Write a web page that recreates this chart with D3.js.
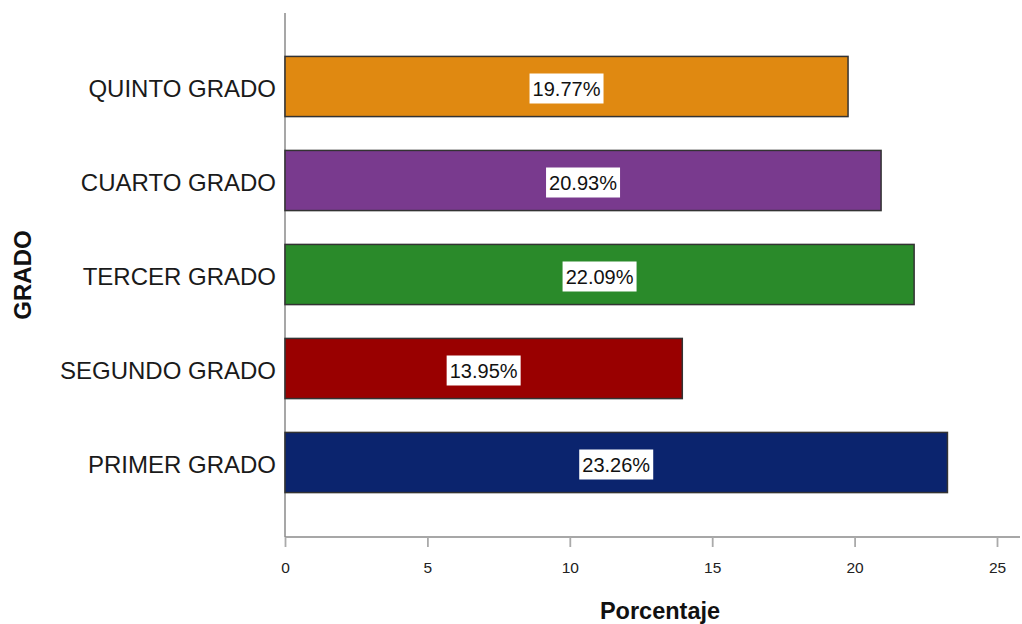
<!DOCTYPE html>
<html>
<head>
<meta charset="utf-8">
<script src="https://cdn.jsdelivr.net/npm/d3@7"></script>
<style>
html,body{margin:0;padding:0;background:#fff;}
svg{display:block;font-family:"Liberation Sans",Arial,sans-serif;}
</style>
</head>
<body>
<svg id="chart" width="1022" height="624"></svg>
<script>
const categories = ["QUINTO GRADO","CUARTO GRADO","TERCER GRADO","SEGUNDO GRADO","PRIMER GRADO"];
const values = [19.77, 20.93, 22.09, 13.95, 23.26];
const colors = ["#E08911","#793A8E","#2A8A2A","#990000","#0B246E"];
const xTicks = [0,5,10,15,20,25];
const xTitle = "Porcentaje";
const yTitle = "GRADO";

const svg = d3.select("#chart");
const x = d3.scaleLinear().domain([0,25]).range([285,997]);
const y = d3.scaleBand().domain(categories).range([39.5,509.5]).paddingInner(0.36).paddingOuter(0.18);
const axisY = 537;

// axis lines
svg.append("line").attr("x1",285).attr("x2",285).attr("y1",13).attr("y2",axisY)
  .attr("stroke","#8a8a8a").attr("stroke-width",1.5);
svg.append("line").attr("x1",285).attr("x2",1020).attr("y1",axisY).attr("y2",axisY)
  .attr("stroke","#8a8a8a").attr("stroke-width",1.5);

// x ticks
const xAxis = svg.append("g").attr("transform",`translate(0,${axisY})`)
  .call(d3.axisBottom(x).tickValues(xTicks).tickSize(10).tickPadding(15).tickFormat(d3.format("d")));
xAxis.attr("font-size",null);
xAxis.select(".domain").remove();
xAxis.selectAll(".tick line").attr("stroke","#aaa").attr("stroke-width",1.8);
xAxis.selectAll(".tick text").attr("font-size","15.5px").attr("fill","#222")
  .attr("font-family","Liberation Sans, Arial, sans-serif");

// category labels
svg.append("g").selectAll("text").data(categories).join("text")
  .attr("x",276).attr("y",d=>y(d)+y.bandwidth()/2+1.5)
  .attr("dy","0.36em").attr("text-anchor","end")
  .attr("font-size","24px").attr("fill","#1a1a1a").text(d=>d);

// bars
svg.append("g").selectAll("rect").data(values).join("rect")
  .attr("x",x(0)).attr("y",(d,i)=>y(categories[i]))
  .attr("width",d=>x(d)-x(0)).attr("height",y.bandwidth())
  .attr("fill",(d,i)=>colors[i]).attr("stroke","#333").attr("stroke-width",1.5);

// value labels
const lab = svg.append("g").selectAll("g").data(values).join("g")
  .attr("transform",(d,i)=>`translate(${(x(0)+x(d))/2},${y(categories[i])+y.bandwidth()/2+2})`);
lab.append("rect").attr("x",-37).attr("y",-15).attr("width",74).attr("height",30).attr("fill","#fff");
lab.append("text").attr("text-anchor","middle").attr("dy","0.36em")
  .attr("font-size","20px").attr("fill","#111").text(d=>d.toFixed(2)+"%");

// titles
svg.append("text").attr("x",660).attr("y",619).attr("text-anchor","middle")
  .attr("font-size","23.5px").attr("font-weight","bold").attr("fill","#111").text(xTitle);
svg.append("text").attr("transform","translate(31,275) rotate(-90)").attr("text-anchor","middle")
  .attr("font-size","24px").attr("font-weight","bold").attr("fill","#111").text(yTitle);
</script>
</body>
</html>
